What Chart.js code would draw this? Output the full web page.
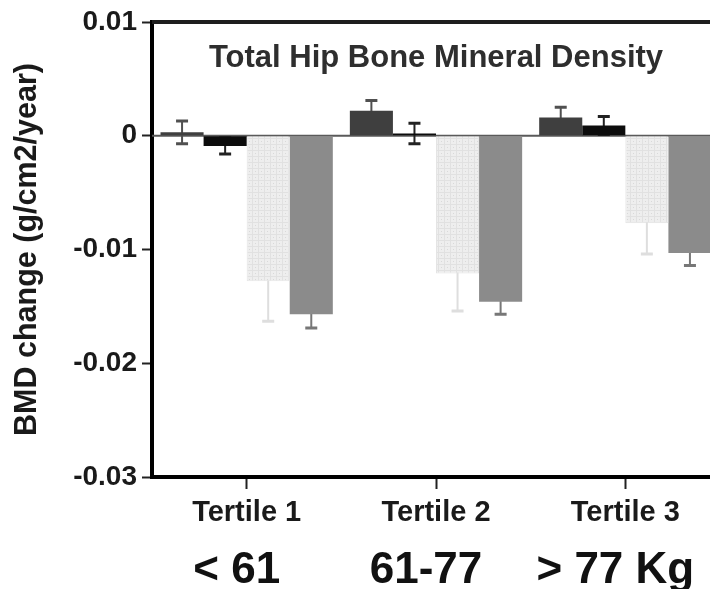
<!DOCTYPE html>
<html>
<head>
<meta charset="utf-8">
<script src="https://cdn.jsdelivr.net/npm/chart.js@4.4.1/dist/chart.umd.min.js"></script>
<style>
  html, body { margin: 0; padding: 0; background: #fff; overflow: hidden; }
  canvas { display: block; }
</style>
</head>
<body>
<canvas id="bmdChart" width="722" height="589"></canvas>
<script>
// Categories and values
const tertiles = ['Tertile 1', 'Tertile 2', 'Tertile 3'];
const weightRanges = ['< 61', '61-77', '> 77 Kg'];
const yTicks = [0.01, 0, -0.01, -0.02, -0.03];

// mean yearly BMD change per group, with error bar half-lengths
const bmdA = [0.0003, 0.0022, 0.0016];
const errA = [0.0010, 0.0009, 0.0009];
const bmdB = [-0.0009, 0.0002, 0.0009];
const errB = [0.0007, 0.0009, 0.0008];
const bmdC = [-0.0128, -0.0121, -0.0077];
const errC = [0.0035, 0.0033, 0.0027];
const bmdD = [-0.0157, -0.0146, -0.0103];
const errD = [0.0012, 0.0011, 0.0011];

const FONT = "'Liberation Sans', Arial, Helvetica, sans-serif";

// light dotted fill for the third group
function dottedFill() {
    const c = document.createElement('canvas');
    c.width = 6;
    c.height = 6;
    const g = c.getContext('2d');
    g.fillStyle = '#eeeeee';
    g.fillRect(0, 0, 6, 6);
    g.fillStyle = '#e1e1e1';
    g.fillRect(0, 0, 6, 1);
    g.fillRect(0, 0, 1, 6);
    g.fillStyle = '#d9d9d9';
    g.fillRect(3, 3, 1, 1);
    return g.createPattern(c, 'repeat');
}

// error bars sit behind the bars, zero line across the plot
const errorBars = {
    id: 'errorBars',
    beforeDatasetsDraw(chart) {
        const { ctx, chartArea, scales: { y } } = chart;
        const y0 = y.getPixelForValue(0);
        ctx.save();
        ctx.strokeStyle = '#5a5a5a';
        ctx.lineWidth = 2;
        ctx.beginPath();
        ctx.moveTo(chartArea.left, y0);
        ctx.lineTo(chartArea.right, y0);
        ctx.stroke();

        chart.data.datasets.forEach((ds, i) => {
            const meta = chart.getDatasetMeta(i);
            meta.data.forEach((bar, j) => {
                const v = ds.data[j];
                const e = ds.errors[j];
                const yHi = y.getPixelForValue(v + e);
                const yLo = y.getPixelForValue(v - e);
                ctx.strokeStyle = ds.errorColor;
                ctx.lineWidth = 2;
                ctx.beginPath();
                ctx.moveTo(bar.x, yHi);
                ctx.lineTo(bar.x, yLo);
                ctx.stroke();
                ctx.lineWidth = 3;
                ctx.beginPath();
                ctx.moveTo(bar.x - 6, yHi);
                ctx.lineTo(bar.x + 6, yHi);
                ctx.moveTo(bar.x - 6, yLo);
                ctx.lineTo(bar.x + 6, yLo);
                ctx.stroke();
            });
        });
        ctx.restore();
    }
};

// frame top, plot title and the weight ranges under the tertiles
const decorations = {
    id: 'decorations',
    afterDraw(chart) {
        const { ctx, chartArea, scales: { x } } = chart;
        ctx.save();
        ctx.strokeStyle = '#1e1e1e';
        ctx.lineWidth = 4;
        ctx.beginPath();
        ctx.moveTo(chartArea.left, chartArea.top);
        ctx.lineTo(chartArea.right, chartArea.top);
        ctx.lineTo(chartArea.right, chartArea.bottom);
        ctx.stroke();

        ctx.fillStyle = '#2e2e2e';
        ctx.font = 'bold 31px ' + FONT;
        ctx.textAlign = 'center';
        ctx.textBaseline = 'alphabetic';
        ctx.fillText('Total Hip Bone Mineral Density', (chartArea.left + chartArea.right) / 2, chartArea.top + 45);

        ctx.fillStyle = '#111';
        ctx.font = 'bold 44px ' + FONT;
        weightRanges.forEach((txt, i) => {
            ctx.fillText(txt, x.getPixelForValue(i) - 10, chartArea.bottom + 106);
        });
        ctx.restore();
    }
};

const ctx = document.getElementById('bmdChart').getContext('2d');
new Chart(ctx, {
    type: 'bar',
    data: {
        labels: tertiles,
        datasets: [
            { data: bmdA, errors: errA, backgroundColor: '#3f3f3f', errorColor: '#505050' },
            { data: bmdB, errors: errB, backgroundColor: '#0c0c0c', errorColor: '#222222' },
            { data: bmdC, errors: errC, backgroundColor: dottedFill(), borderColor: '#e4e4e4', borderWidth: 1, errorColor: '#dedede' },
            { data: bmdD, errors: errD, backgroundColor: '#8b8b8b', errorColor: '#777777' }
        ]
    },
    options: {
        responsive: false,
        animation: false,
        layout: { padding: { top: 22, right: 2, left: 0, bottom: 0 } },
        plugins: {
            legend: { display: false },
            tooltip: { enabled: false }
        },
        datasets: {
            bar: { categoryPercentage: 0.91, barPercentage: 1.0 }
        },
        scales: {
            x: {
                grid: { offset: false, drawOnChartArea: false, tickLength: 12, tickWidth: 2, tickColor: '#222' },
                border: { width: 4, color: '#000' },
                ticks: { font: { family: FONT, size: 29, weight: 'bold' }, color: '#1a1a1a', padding: 7 },
                afterFit: s => { s.height = 112; }
            },
            y: {
                min: -0.03,
                max: 0.01,
                afterBuildTicks: s => { s.ticks = yTicks.map(v => ({ value: v })); },
                grid: { drawOnChartArea: false, tickLength: 10, tickWidth: 2, tickColor: '#222' },
                border: { width: 4, color: '#000' },
                ticks: {
                    font: { family: FONT, size: 28, weight: 'bold' },
                    color: '#1a1a1a',
                    padding: 5,
                    callback: v => (Math.abs(v) < 1e-9 ? '0' : v.toFixed(2))
                },
                title: {
                    display: true,
                    text: 'BMD change (g/cm2/year)',
                    font: { family: FONT, size: 30.5, weight: 'bold' },
                    color: '#1a1a1a',
                    padding: { top: 9, bottom: 0 }
                },
                afterFit: s => { s.width = 152; }
            }
        }
    },
    plugins: [errorBars, decorations]
});
</script>
</body>
</html>
